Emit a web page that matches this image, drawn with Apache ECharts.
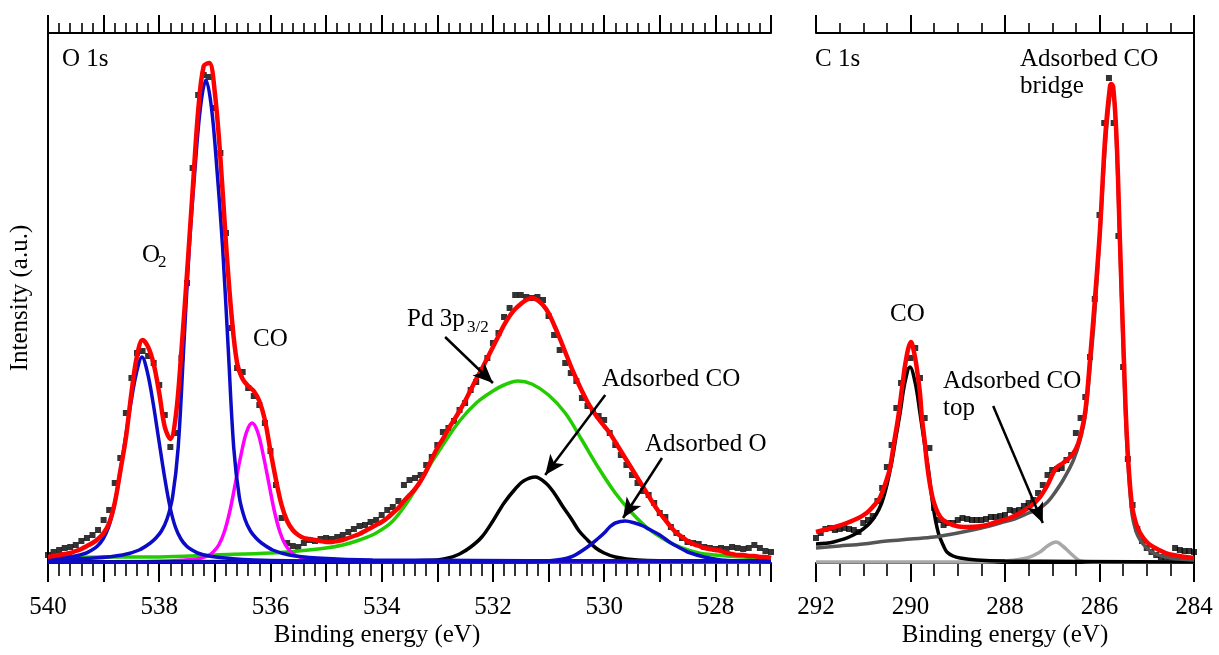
<!DOCTYPE html>
<html>
<head>
<meta charset="utf-8">
<script src="https://cdn.jsdelivr.net/npm/echarts@6/dist/echarts.min.js"></script>
<style>
html, body { margin: 0; padding: 0; background: #fff; }
#main { width: 1219px; height: 655px; }
</style>
</head>
<body>
<div id="main"></div>
<script>
// O 1s measured points, 540.0 -> 527.0 eV, step 0.1
var oStart = 540, cStart = 292, eStep = 0.1;
var oData = [8, 11, 13, 15, 16, 18, 22, 25, 28, 33,
    43, 53, 80, 105, 150, 185, 210, 212, 207, 200,
    178, 148, 116, 130, 205, 280, 395, 468, 488, 486,
    455, 410, 330, 235, 195, 191, 175, 167, 158, 140,
    112, 78, 45, 20, 17, 16, 20, 23, 22, 24,
    25, 24, 26, 28, 31, 34, 37, 38, 41, 43,
    48, 53, 56, 62, 78, 83, 85, 88, 98, 106,
    118, 131, 135, 142, 153, 160, 173, 181, 193, 205,
    220, 230, 246, 255, 268, 268, 266, 265, 266, 263,
    247, 228, 213, 200, 190, 182, 165, 157, 152, 147,
    143, 130, 118, 108, 98, 88, 80, 72, 68, 60,
    50, 46, 36, 30, 25, 21, 20, 19, 16, 15,
    14, 15, 14, 16, 15, 14, 15, 18, 15, 12,
    11];
// O 1s envelope (red), same grid
var oFit = [6, 7, 8, 9, 10, 12, 14, 17, 20, 24,
    30, 40, 60, 92, 125, 170, 207, 223, 216, 199,
    170, 136, 124, 148, 213, 290, 372, 452, 497, 500,
    470, 405, 320, 248, 200, 184, 177, 172, 162, 143,
    112, 83, 58, 42, 33, 28, 25, 24, 23, 22,
    21, 21, 22, 23, 25, 27, 29, 32, 35, 38,
    41, 45, 50, 55, 62, 68, 74, 82, 92, 104,
    115, 124, 134, 143, 152, 162, 173, 184, 194, 205,
    216, 227, 238, 247, 254, 259, 263, 265, 263, 258,
    250, 238, 225, 211, 197, 184, 172, 161, 152, 144,
    137, 130, 121, 112, 103, 94, 85, 76, 67, 58,
    50, 43, 36, 30, 26, 22, 19, 17, 15, 14,
    13, 12, 10, 9, 8, 8, 7, 7, 6, 6,
    5];
// O 1s components [eV, intensity]
var oGasA = [[540, 4], [539.81, 5], [539.51, 7], [539.31, 10], [539.21, 13], [539.11, 17], [539.01, 24], [538.91, 36],
    [538.81, 57], [538.71, 88], [538.61, 124], [538.51, 160], [538.41, 190], [538.31, 206], [538.21, 190], [538.11, 160],
    [538.01, 124], [537.91, 88], [537.81, 57], [537.71, 36], [537.61, 24], [537.51, 17], [537.41, 13], [537.31, 10],
    [537.11, 7], [536.81, 5], [536.3, 3], [535, 2], [527, 2]];
var oGasB = [[540, 3], [539.16, 5], [538.66, 8], [538.36, 13], [538.16, 20], [538.06, 25], [537.96, 32], [537.86, 44],
    [537.76, 66], [537.66, 115], [537.56, 215], [537.46, 315], [537.36, 392], [537.26, 455], [537.16, 483], [537.06, 455],
    [536.96, 392], [536.86, 315], [536.76, 215], [536.66, 115], [536.56, 66], [536.46, 44], [536.36, 32], [536.26, 25],
    [536.16, 20], [535.96, 13], [535.66, 8], [535.16, 5], [534.16, 3], [527, 2]];
var oGasCO = [[540, 1], [537.83, 2], [537.33, 4], [537.13, 7], [537.03, 11], [536.93, 18], [536.83, 31], [536.73, 52],
    [536.63, 80], [536.53, 108], [536.43, 131], [536.33, 140], [536.23, 131], [536.13, 108], [536.03, 80], [535.93, 52],
    [535.83, 31], [535.73, 18], [535.63, 11], [535.53, 7], [535.33, 4], [534.83, 2], [534, 1], [527, 1]];
var oPd = [[540, 5], [539, 6], [538, 6], [537, 8], [536, 10], [535.5, 12], [535, 15], [534.7, 18], [534.4, 23],
    [534.1, 30], [533.8, 42], [533.5, 64], [533.2, 92], [532.9, 118], [532.6, 142], [532.3, 160], [532.0, 172],
    [531.8, 178], [531.55, 182], [531.3, 179], [531.0, 168], [530.7, 150], [530.4, 123], [530.1, 95], [529.8, 70],
    [529.5, 50], [529.2, 34], [528.9, 23], [528.6, 15], [528.3, 10], [528.0, 8], [527.5, 6], [527, 5]];
var oAdsCO = [[540, 1], [534, 2], [533, 3], [532.8, 5], [532.6, 9], [532.4, 16], [532.2, 26], [532.0, 42], [531.8, 60],
    [531.6, 74], [531.45, 82], [531.24, 86], [531.05, 80], [530.9, 70], [530.75, 57], [530.6, 45], [530.45, 32],
    [530.3, 23], [530.15, 15], [530.0, 10], [529.8, 6], [529.4, 3], [528.5, 2], [527, 2]];
var oAdsO = [[540, 1], [531.5, 1], [531, 2], [530.6, 6], [530.3, 16], [530.1, 25], [530.0, 30], [529.9, 36], [529.8, 40],
    [529.62, 42], [529.45, 40], [529.3, 37], [529.2, 34], [529.0, 28], [528.8, 20], [528.6, 14], [528.5, 11],
    [528.2, 6], [527.9, 3], [527.5, 2], [527, 1]];

// C 1s measured points, 292.0 -> 284.0 eV, step 0.1
var cData = [25, 30, 34, 35, 33, 34, 35, 34, 33, 31,
    40, 43, 47, 62, 75, 96, 118, 155, 180, 193,
    205, 215, 185, 145, 115, 55, 43, 38, 40, 40,
    43, 45, 44, 43, 43, 43, 44, 46, 46, 47,
    48, 53, 52, 53, 57, 60, 63, 70, 78, 88,
    93, 94, 95, 103, 108, 130, 145, 166, 206, 264,
    348, 440, 485, 440, 327, 196, 104, 58, 34, 22,
    15, 11, 8, 6, 5, 6, 15, 13, 12, 12,
    11];
var cFit = [[292, 31], [291.6, 36], [291.35, 40], [291.1, 45], [290.93, 50], [290.8, 56], [290.65, 65], [290.5, 84],
    [290.43, 96], [290.35, 120], [290.26, 146], [290.18, 175], [290.12, 196], [290.05, 214], [289.99, 221],
    [289.93, 212], [289.87, 196], [289.8, 170], [289.76, 146], [289.7, 122], [289.66, 103], [289.6, 82],
    [289.52, 63], [289.42, 50], [289.31, 43], [289.1, 38], [288.88, 36], [288.5, 37], [288.18, 41], [287.9, 45],
    [287.68, 50], [287.45, 57], [287.26, 66], [287.1, 78], [286.98, 90], [286.9, 96], [286.77, 100], [286.62, 106],
    [286.5, 114], [286.41, 126], [286.3, 152], [286.2, 204], [286.1, 262], [285.99, 333], [285.88, 426],
    [285.78, 476], [285.75, 479], [285.71, 476], [285.64, 426], [285.57, 326], [285.5, 226], [285.42, 126],
    [285.32, 60], [285.23, 40], [285.14, 30], [285.0, 21], [284.86, 16], [284.6, 10], [284.44, 8], [284.0, 5]];
var cGasCO = [[292, 19], [291.63, 21], [291.21, 28], [290.86, 40], [290.61, 60], [290.43, 93], [290.3, 128],
    [290.22, 150], [290.12, 180], [290.01, 196], [289.9, 180], [289.8, 150], [289.7, 118], [289.62, 93],
    [289.52, 56], [289.41, 30], [289.3, 17], [289.23, 11], [289.1, 7], [288.95, 5], [288.6, 3], [288, 2], [284, 1]];
var cBridge = [[292, 15], [291.5, 17], [291, 19], [290.5, 22], [290, 24], [289.5, 26], [289, 30], [288.5, 35],
    [288.1, 40], [287.8, 44], [287.5, 50], [287.26, 55], [287.1, 61], [286.98, 68], [286.77, 83], [286.55, 103],
    [286.41, 123], [286.3, 148], [286.2, 195], [286.1, 250], [286.0, 322], [285.88, 415], [285.78, 466],
    [285.72, 470], [285.64, 418], [285.57, 318], [285.5, 218], [285.42, 118], [285.32, 52], [285.23, 32],
    [285.14, 23], [285.0, 15], [284.86, 10], [284.6, 6], [284.3, 4], [284, 3]];
var cTop = [[292, 1], [288.5, 1], [288, 2], [287.54, 5], [287.26, 11], [287.1, 17], [286.92, 21], [286.78, 17],
    [286.62, 10], [286.5, 5], [286.41, 2], [286, 1], [284, 1]];

function toPairs(start, arr) {
    var out = [];
    for (var i = 0; i < arr.length; i++) {
        out.push([Math.round(start * 10 - i * eStep * 10) / 10, arr[i]]);
    }
    return out;
}

var serif = '"Liberation Serif", "Times New Roman", serif';
var axisColor = '#000';

function xAxisOf(grid, pos, min, max, interval, minorSplit, labels) {
    return {
        type: 'value', gridIndex: grid, position: pos, min: min, max: max, inverse: true, interval: interval,
        axisLine: { show: true, onZero: false, lineStyle: { color: axisColor, width: 2 } },
        axisTick: { show: true, length: pos === 'top' ? 18 : 19, lineStyle: { color: axisColor, width: 2 } },
        minorTick: { show: true, splitNumber: minorSplit, length: pos === 'top' ? 10 : 13, lineStyle: { color: axisColor, width: 1.6 } },
        axisLabel: {
            show: labels, margin: 32, color: '#000', fontFamily: serif, fontSize: 25,
            formatter: function (v) { return (v % 2 === 0) ? String(v) : ''; }
        },
        splitLine: { show: false }, minorSplitLine: { show: false }
    };
}

function comp(xi, yi, data, color, width, z) {
    return {
        type: 'line', xAxisIndex: xi, yAxisIndex: yi, data: data, showSymbol: false, symbol: 'none',
        smooth: 0.35, lineStyle: { color: color, width: width }, z: z, silent: true
    };
}

function arrows(list) {
    return {
        silent: true, symbol: ['none', 'arrow'], symbolSize: [13, 20],
        lineStyle: { color: '#000', width: 2.5, type: 'solid' }, label: { show: false },
        data: list.map(function (a) { return [{ coord: a[0] }, { coord: a[1] }]; })
    };
}

function label(text, x, y, size, align) {
    return {
        type: 'text', x: x, y: y, silent: true,
        style: { text: text, fill: '#000', font: (size || 25) + 'px ' + serif, align: align || 'left', verticalAlign: 'middle' }
    };
}

var oRed = comp(0, 0, toPairs(oStart, oFit), '#ff0000', 4.5, 4);
oRed.markLine = arrows([
    [[532.86, 226], [532.0, 180]],
    [[529.98, 168], [531.06, 88]],
    [[528.96, 105], [529.66, 45]]
]);
var cRed = comp(2, 1, cFit, '#ff0000', 4.5, 4);
cRed.markLine = arrows([[[288.25, 157], [287.2, 40]]]);

var option = {
    animation: false,
    backgroundColor: '#fff',
    grid: [
        { left: 48, top: 33, width: 723, height: 530, containLabel: false, outerBoundsMode: 'none' },
        { left: 816, top: 33, width: 378, height: 530, containLabel: false, outerBoundsMode: 'none' }
    ],
    xAxis: [
        xAxisOf(0, 'bottom', 527, 540, 1, 5, true),
        xAxisOf(0, 'top', 527, 540, 1, 5, false),
        xAxisOf(1, 'bottom', 284, 292, 2, 4, true),
        xAxisOf(1, 'top', 284, 292, 2, 4, false)
    ],
    yAxis: [
        {
            type: 'value', gridIndex: 0, min: 0, max: 530, position: 'left',
            axisLine: { show: true, onZero: false, lineStyle: { color: axisColor, width: 2 } },
            axisTick: { show: false }, axisLabel: { show: false }, splitLine: { show: false },
            name: 'Intensity (a.u.)', nameLocation: 'middle', nameGap: 15,
            nameTextStyle: { color: '#000', fontFamily: serif, fontSize: 25 }
        },
        {
            type: 'value', gridIndex: 1, min: 0, max: 530, position: 'right',
            axisLine: { show: true, onZero: false, lineStyle: { color: axisColor, width: 2 } },
            axisTick: { show: false }, axisLabel: { show: false }, splitLine: { show: false }
        }
    ],
    series: [
        {
            type: 'scatter', xAxisIndex: 0, yAxisIndex: 0, data: toPairs(oStart, oData),
            symbol: 'rect', symbolSize: 6, itemStyle: { color: '#000' }, z: 1, silent: true
        },
        comp(0, 0, oPd, '#22cc00', 3.5, 2),
        comp(0, 0, oGasCO, '#ff00ff', 3.5, 2),
        comp(0, 0, oAdsCO, '#000000', 3.5, 2),
        comp(0, 0, oAdsO, '#0c0cc8', 3.5, 2),
        comp(0, 0, oGasA, '#0c0cc8', 3.5, 2),
        comp(0, 0, oGasB, '#0c0cc8', 3.5, 2),
        oRed,
        {
            type: 'scatter', xAxisIndex: 2, yAxisIndex: 1, data: toPairs(cStart, cData),
            symbol: 'rect', symbolSize: 6, itemStyle: { color: '#000' }, z: 1, silent: true
        },
        comp(2, 1, cTop, '#a8a8a8', 3.5, 2),
        comp(2, 1, cGasCO, '#000000', 3.5, 2),
        comp(2, 1, cBridge, '#555555', 3.5, 2),
        cRed
    ],
    graphic: [
        label('O 1s', 62, 59),
        label('O', 142, 255),
        label('2', 158, 263, 17),
        label('CO', 253, 339),
        label('Pd 3p', 407, 319),
        label('3/2', 467, 328, 17),
        label('Adsorbed CO', 602, 379),
        label('Adsorbed O', 645, 444),
        label('C 1s', 815, 59),
        label('Adsorbed CO', 1020, 59),
        label('bridge', 1020, 86),
        label('CO', 890, 314),
        label('Adsorbed CO', 943, 381),
        label('top', 943, 408),
        label('Binding energy (eV)', 377, 635, 25, 'center'),
        label('Binding energy (eV)', 1005, 635, 25, 'center')
    ]
};

var myChart = echarts.init(document.getElementById('main'));
myChart.setOption(option);
</script>
</body>
</html>
